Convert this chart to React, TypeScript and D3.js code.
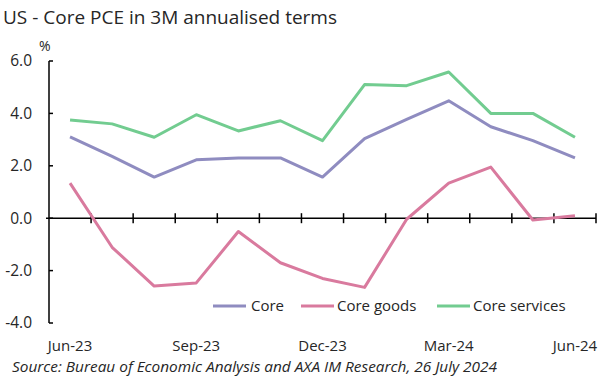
import React from "react";
import * as d3 from "d3";

const months = ["Jun-23","Jul-23","Aug-23","Sep-23","Oct-23","Nov-23","Dec-23","Jan-24","Feb-24","Mar-24","Apr-24","May-24","Jun-24"];
const tickMonths = ["Jun-23","Sep-23","Dec-23","Mar-24","Jun-24"];
const core = [3.10, 2.36, 1.57, 2.23, 2.30, 2.30, 1.57, 3.04, 3.77, 4.48, 3.49, 2.96, 2.30];
const coreGoods = [1.34, -1.11, -2.59, -2.47, -0.51, -1.70, -2.30, -2.64, -0.04, 1.34, 1.95, -0.07, 0.09];
const coreServices = [3.75, 3.60, 3.09, 3.95, 3.33, 3.72, 2.96, 5.10, 5.06, 5.58, 4.00, 4.00, 3.09];
const yTicks = [-4, -2, 0, 2, 4, 6];

const seriesNames = ["Core", "Core goods", "Core services"];
const seriesColors = ["#8f8cc0", "#d97a9e", "#72cc90"];

const W = 614, H = 379;
const FONT = "'Open Sans', 'Noto Sans', sans-serif";

export default function App() {
  const x = d3.scaleBand<string>().domain(months).range([49, 596]).padding(0);
  const y = d3.scaleLinear().domain([-4, 6]).range([323, 61]);
  const cx = (m: string) => (x(m) as number) + x.bandwidth() / 2;
  const line = d3.line<number>().x((_, i) => cx(months[i])).y((v) => y(v));
  const data = [core, coreGoods, coreServices];
  const y0 = y(0);
  const bounds = months.map((m) => (x(m) as number) + x.bandwidth());

  const legendItems = [
    { lx: 213, tx: 251 },
    { lx: 301, tx: 337 },
    { lx: 437, tx: 473 },
  ];

  return (
    <svg width={W} height={H} style={{ position: "absolute", left: 0, top: 0, background: "#fff" }} fontFamily={FONT}>
      <text x={3} y={24} fontSize={19} fill="#262626">US - Core PCE in 3M annualised terms</text>
      <text x={39} y={51} fontSize={14} fill="#262626">%</text>
      {/* Y axis */}
      <line x1={49} x2={49} y1={y(6)} y2={y(-4)} stroke="#000" strokeWidth={1.5} />
      {yTicks.map((t) => (
        <g key={t}>
          <line x1={49} x2={53} y1={y(t)} y2={y(t)} stroke="#000" strokeWidth={1.5} />
          <text x={32} y={y(t)} dy="0.35em" textAnchor="end" fontSize={15.5} fill="#262626">
            {t.toFixed(1)}
          </text>
        </g>
      ))}
      {/* X axis at zero */}
      <line x1={46} x2={596} y1={y0} y2={y0} stroke="#000" strokeWidth={1.5} />
      {bounds.map((b, i) => (
        <line key={i} x1={b} x2={b} y1={y0 - 5} y2={y0 + 5} stroke="#000" strokeWidth={1.5} />
      ))}
      {data.map((d, i) => (
        <path key={i} d={line(d) || ""} fill="none" stroke={seriesColors[i]} strokeWidth={3} strokeLinejoin="round" />
      ))}
      {tickMonths.map((m) => (
        <text key={m} x={cx(m)} y={351} textAnchor="middle" fontSize={15} fill="#262626">{m}</text>
      ))}
      {/* Legend */}
      {seriesNames.map((n, i) => (
        <g key={n}>
          <line x1={legendItems[i].lx} x2={legendItems[i].lx + 33} y1={306} y2={306} stroke={seriesColors[i]} strokeWidth={3} />
          <text x={legendItems[i].tx} y={306} dy="0.35em" fontSize={15} fill="#262626">{n}</text>
        </g>
      ))}
      <text x={12} y={372} fontSize={14.5} fontStyle="italic" fill="#262626" textLength={485} lengthAdjust="spacingAndGlyphs">
        Source: Bureau of Economic Analysis and AXA IM Research, 26 July 2024
      </text>
    </svg>
  );
}
